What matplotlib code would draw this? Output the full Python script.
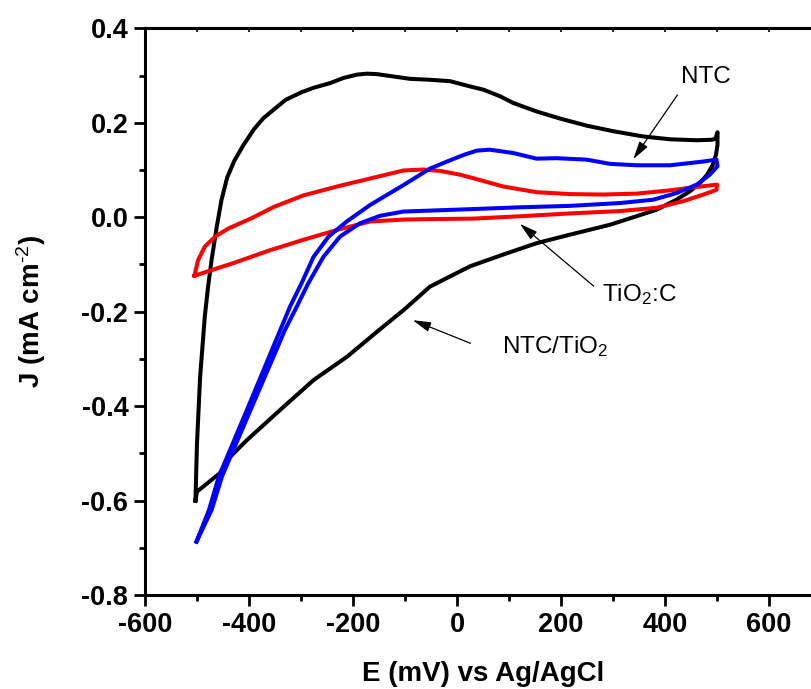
import matplotlib
matplotlib.use("Agg")
import matplotlib.pyplot as plt
from matplotlib.ticker import MultipleLocator, FormatStrFormatter

plt.rcParams['font.family'] = ['Liberation Sans', 'DejaVu Sans']
plt.rcParams['mathtext.fontset'] = 'custom'
plt.rcParams['mathtext.rm'] = 'Liberation Sans'
plt.rcParams['mathtext.bf'] = 'Liberation Sans:bold'
plt.rcParams['mathtext.default'] = 'regular'
plt.rcParams['axes.unicode_minus'] = False

# NTC/TiO2 (black) closed loop
e_black = [-503, -500, -456, -436, -404, -340, -276, -211, -150, -102, -52, 25, 89, 153, 217, 294,
           345, 384, 422, 448, 467, 481, 492, 498, 501, 501, 497, 490, 461, 410, 358, 301, 249,
           198, 153, 108, 83, 51, 25, -13, -51, -90, -122, -154, -173, -192, -218, -244, -276,
           -298, -329, -349, -372, -390, -410, -428, -442, -453, -462, -472, -479, -485, -494,
           -500, -503]
j_black = [-0.600, -0.581, -0.542, -0.507, -0.472, -0.408, -0.345, -0.295, -0.239, -0.196, -0.147,
           -0.104, -0.079, -0.055, -0.037, -0.016, 0.002, 0.016, 0.037, 0.055, 0.072, 0.090,
           0.111, 0.132, 0.153, 0.180, 0.166, 0.164, 0.163, 0.165, 0.171, 0.182, 0.194, 0.209,
           0.224, 0.242, 0.256, 0.270, 0.277, 0.288, 0.291, 0.293, 0.298, 0.303, 0.304, 0.302,
           0.295, 0.284, 0.274, 0.265, 0.249, 0.231, 0.210, 0.187, 0.154, 0.120, 0.084, 0.036,
           -0.020, -0.091, -0.150, -0.210, -0.338, -0.478, -0.600]

# NTC (blue) closed loop
e_blue = [-501, -477, -458, -404, -340, -321, -299, -276, -247, -212, -167, -103, -52, -19, 13, 38,
          63, 108, 153, 191, 249, 294, 346, 410, 474, 499, 501, 486, 461, 422, 377, 313, 217, 121,
          25, -52, -103, -148, -187, -225, -257, -286, -308, -331, -397, -452, -472, -501]
j_blue = [-0.687, -0.620, -0.549, -0.408, -0.239, -0.189, -0.140, -0.084, -0.041, -0.009, 0.026,
          0.068, 0.103, 0.118, 0.132, 0.141, 0.143, 0.136, 0.124, 0.125, 0.122, 0.113, 0.110,
          0.110, 0.118, 0.122, 0.108, 0.090, 0.069, 0.051, 0.037, 0.030, 0.024, 0.021, 0.017,
          0.014, 0.012, 0.003, -0.013, -0.041, -0.084, -0.140, -0.189, -0.239, -0.408, -0.549,
          -0.620, -0.687]

# TiO2:C (red) closed loop
e_red = [-505, -498, -485, -465, -440, -395, -352, -296, -231, -167, -103, -65, -32, 6, 30, 89, 153,
         217, 281, 346, 410, 461, 500, 499, 474, 435, 384, 313, 217, 121, 30, -52, -103, -167,
         -231, -296, -360, -427, -472, -505]
j_red = [-0.124, -0.091, -0.062, -0.041, -0.024, -0.002, 0.022, 0.046, 0.065, 0.082, 0.099, 0.101,
         0.098, 0.090, 0.083, 0.065, 0.053, 0.049, 0.048, 0.050, 0.057, 0.064, 0.069, 0.058,
         0.048, 0.034, 0.020, 0.013, 0.008, 0.002, -0.003, -0.004, -0.005, -0.009, -0.027,
         -0.048, -0.070, -0.096, -0.112, -0.124]

labels = ["NTC", "TiO$_2$:C", "NTC/TiO$_2$"]
label_pos = [(479, 0.297), (278, -0.163), (86, -0.274)]
arrow_tail = [(424, 0.259), (263, -0.146), (26, -0.267)]
arrow_head = [(339, 0.123), (121, -0.014), (-85, -0.218)]

fig = plt.figure(figsize=(8.11, 6.89), dpi=100)
ax = fig.add_axes([0.1788, 0.1364, 0.8335, 0.8225])

lw = 2.9
ax.plot(e_black, j_black, color='black', lw=lw, solid_joinstyle='round', zorder=2)
ax.plot(e_red, j_red, color='#ff0000', lw=lw, solid_joinstyle='round', zorder=3)
ax.plot(e_blue, j_blue, color='#0000ff', lw=lw, solid_joinstyle='round', zorder=4)

ax.set_xlim(-600, 700)
ax.set_ylim(-0.8, 0.4)
ax.xaxis.set_major_locator(MultipleLocator(200))
ax.xaxis.set_minor_locator(MultipleLocator(100))
ax.yaxis.set_major_locator(MultipleLocator(0.2))
ax.yaxis.set_minor_locator(MultipleLocator(0.1))
ax.yaxis.set_major_formatter(FormatStrFormatter('%.1f'))
ax.xaxis.set_major_formatter(FormatStrFormatter('%d'))

for s in ax.spines.values():
    s.set_linewidth(2.2)
ax.spines['right'].set_visible(False)

ax.tick_params(which='major', direction='out', length=8, width=2.0, labelsize=19.5, pad=4)
ax.tick_params(which='minor', direction='out', length=4.5, width=2.0)
ax.tick_params(top=False, right=False)
for lab in ax.get_xticklabels() + ax.get_yticklabels():
    lab.set_fontweight('bold')

sec = ax.secondary_xaxis('top')
sec.set_xticks(list(range(-600, 701, 100)))
sec.tick_params(direction='in', length=3, width=1.2, labeltop=False)
sec.spines['top'].set_linewidth(2.2)

ax.set_xlabel("E (mV) vs Ag/AgCl", fontsize=20, fontweight='bold', labelpad=17)
ax.set_ylabel(r"J (mA cm$^{\text{-2}}$)", fontsize=20, fontweight='bold', labelpad=24)

for txt, (tx, ty) in zip(labels, label_pos):
    if txt == "NTC":
        ax.text(tx, ty, txt, fontsize=17.5, ha='center', va='center')
    else:
        ax.text(tx, ty, txt, fontsize=17.5, ha='left', va='center')
for (hx, hy), (tx, ty) in zip(arrow_head, arrow_tail):
    ax.annotate('', xy=(hx, hy), xytext=(tx, ty),
                arrowprops=dict(arrowstyle='-|>,head_length=1.1,head_width=0.3',
                                color='black', lw=0.9, shrinkA=0, shrinkB=0))

fig.savefig("out.png", dpi=100)
